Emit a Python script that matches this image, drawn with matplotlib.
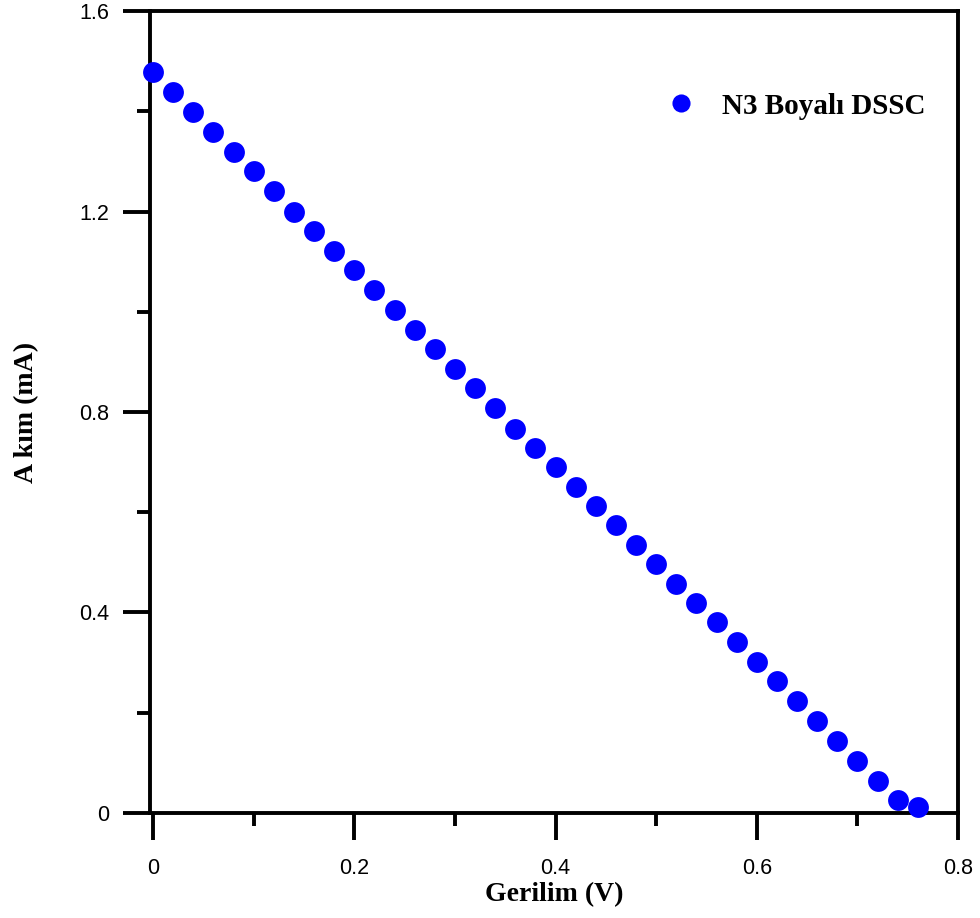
import numpy as np
import matplotlib
matplotlib.use("Agg")
import matplotlib.pyplot as plt
from matplotlib.ticker import MultipleLocator

# I-V data
gerilim = [0.00, 0.02, 0.04, 0.06, 0.08, 0.10, 0.12, 0.14, 0.16, 0.18,
           0.20, 0.22, 0.24, 0.26, 0.28, 0.30, 0.32, 0.34, 0.36, 0.38,
           0.40, 0.42, 0.44, 0.46, 0.48, 0.50, 0.52, 0.54, 0.56, 0.58,
           0.60, 0.62, 0.64, 0.66, 0.68, 0.70, 0.72, 0.74, 0.76]
akim = [1.478, 1.438, 1.398, 1.358, 1.318, 1.280, 1.240, 1.200, 1.161, 1.121,
        1.083, 1.043, 1.003, 0.963, 0.925, 0.885, 0.847, 0.807, 0.767, 0.729,
        0.691, 0.651, 0.613, 0.575, 0.535, 0.497, 0.457, 0.419, 0.382, 0.342,
        0.302, 0.264, 0.224, 0.184, 0.144, 0.104, 0.064, 0.026, 0.012]

xticks = [0, 0.2, 0.4, 0.6, 0.8]
xticklabels = ["0", "0.2", "0.4", "0.6", "0.8"]
yticks = [0, 0.4, 0.8, 1.2, 1.6]
yticklabels = ["0", "0.4", "0.8", "1.2", "1.6"]

fig = plt.figure(figsize=(9.8, 9.18), dpi=100)
ax = fig.add_axes([0.1531, 0.1144, 0.8245, 0.8736])

ax.plot(gerilim, akim, "o", color="#0000ff", markersize=15,
        markeredgewidth=0, label="N3 Boyalı DSSC", clip_on=False, zorder=3)

# small offset on the left like the original (x=0 sits just right of the spine)
ax.set_xlim(-0.003, 0.8)
ax.set_ylim(0, 1.6)
ax.set_xticks(xticks)
ax.set_xticklabels(xticklabels)
ax.set_yticks(yticks)
ax.set_yticklabels(yticklabels)
ax.xaxis.set_minor_locator(MultipleLocator(0.1))
ax.yaxis.set_minor_locator(MultipleLocator(0.2))

for s in ax.spines.values():
    s.set_linewidth(2.8)
ax.tick_params(which="major", direction="out", length=19.5, width=2.8,
               labelsize=15.5, top=False, right=False)
ax.tick_params(axis="y", which="major", pad=10)
ax.tick_params(axis="x", which="major", pad=13)
ax.tick_params(which="minor", direction="out", length=9.5, width=2.8,
               top=False, right=False)
for lab in ax.get_xticklabels() + ax.get_yticklabels():
    lab.set_family("Liberation Sans")

ax.set_xlabel("Gerilim (V)", family="Liberation Serif", fontweight="bold",
              fontsize=20, va="center")
ax.xaxis.set_label_coords(0.5, -0.1022)
ax.set_ylabel("A kım (mA)", family="Liberation Serif", fontweight="bold",
              fontsize=20, va="center")
ax.yaxis.set_label_coords(-0.1522, 0.5)

leg = ax.legend(loc="center left", bbox_to_anchor=(0.6394, 0.8814),
                frameon=False, borderaxespad=0, borderpad=0,
                handlelength=1.0, handletextpad=0.9, markerscale=0.87,
                prop={"family": "Liberation Serif", "weight": "bold",
                      "size": 21})

fig.savefig("out.png", dpi=100)
